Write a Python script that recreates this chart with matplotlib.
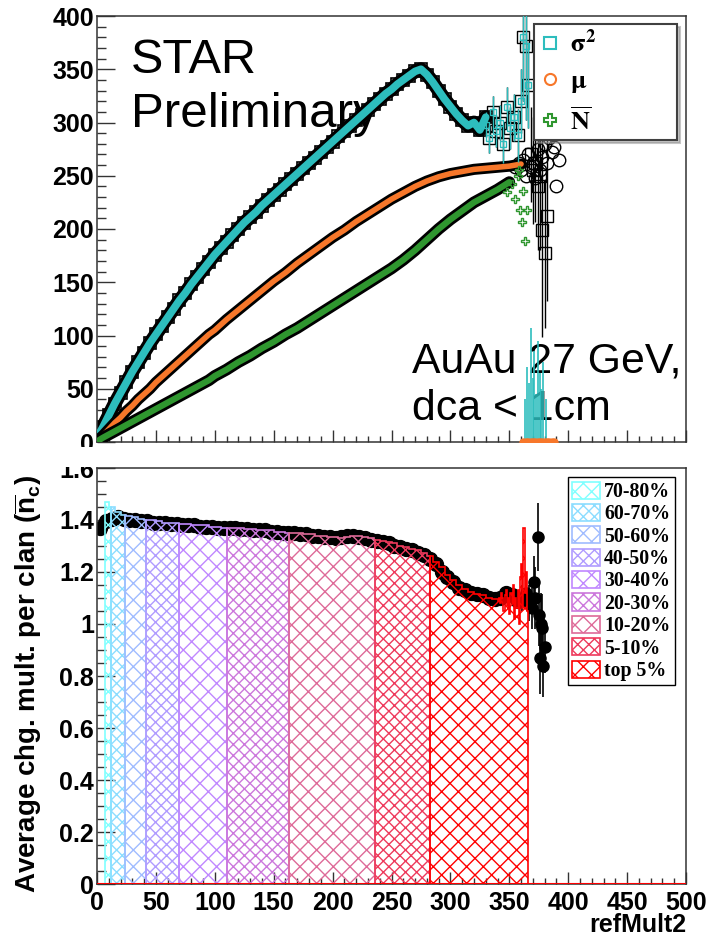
import numpy as np
import matplotlib
matplotlib.use("Agg")
import matplotlib.pyplot as plt
from matplotlib.ticker import MultipleLocator, FuncFormatter
from matplotlib.lines import Line2D
from matplotlib.transforms import Bbox, TransformedBbox

plt.rcParams['font.family'] = ['Liberation Sans', 'DejaVu Sans']
plt.rcParams['font.weight'] = 'bold'
plt.rcParams['mathtext.fontset'] = 'custom'
plt.rcParams['mathtext.rm'] = 'Liberation Sans:bold'
plt.rcParams['mathtext.it'] = 'Liberation Sans:bold'
plt.rcParams['mathtext.bf'] = 'Liberation Sans:bold'
plt.rcParams['hatch.linewidth'] = 1.0

CYAN = '#2DBDBD'
ORANGE = '#F7772A'
GREEN = '#2F962F'

# ---- upper pad: sigma^2, mu and Nbar vs refMult2 ----
sig2_x = [2] + list(range(5, 335, 5))
sig2 = [8,
        14, 25, 36, 46, 56, 66, 75, 84, 93, 101,
        109, 117, 125, 133, 140, 148, 155, 162, 169, 176,
        182, 188, 194, 200, 206, 211, 216, 222, 227, 232,
        237, 242, 247, 252, 257, 262, 267, 272, 277, 282,
        287, 292, 297, 302, 307, 312, 317, 322, 327, 331,
        336, 340, 344, 348, 350, 345, 338, 330, 322, 315,
        308, 302, 297, 300, 293, 305]

mu_x = [2] + list(range(5, 105, 5)) + list(range(110, 370, 10))
mu = [3,
      6, 12, 18, 23, 29, 34, 40, 45, 50, 56,
      61, 66, 71, 76, 81, 86, 91, 96, 101, 105,
      115, 124, 133, 142, 151, 159, 168, 176, 184, 192,
      199, 207, 214, 221, 228, 234, 240, 245, 249, 252,
      254, 256, 257, 258, 259, 261]

nbar_x = [2] + list(range(5, 105, 5)) + list(range(110, 360, 10))
nbar = [2,
        4, 7, 10, 13, 16, 19, 22, 25, 28, 31,
        34, 37, 40, 43, 46, 49, 52, 55, 58, 62,
        68, 75, 81, 88, 94, 101, 107, 114, 121, 128,
        135, 142, 149, 156, 163, 171, 180, 190, 200, 209,
        217, 225, 231, 237, 244]

# low-statistics bins at high refMult2
sig2_tail_x = [330, 333, 336, 339, 342, 345, 348, 351, 354, 357, 360, 362,
               364, 366, 368, 370, 372, 374, 376, 378, 380, 382]
sig2_tail = [298, 285, 310, 292, 300, 280, 315, 295, 305, 288, 320, 380,
             372, 335, 270, 255, 262, 240, 250, 199, 177, 212]
sig2_tail_err = [12, 14, 15, 15, 16, 18, 18, 20, 22, 25, 30, 60,
                 70, 40, 45, 50, 55, 60, 70, 100, 70, 80]
sig2_zero_x = [363, 365, 367, 368, 370, 371, 373, 374, 376, 377, 379, 381]
sig2_zero_err = [40, 70, 55, 107, 60, 85, 45, 95, 65, 50, 75, 40]

mu_tail_x = [355, 358, 360, 362, 364, 366, 368, 370, 372, 374, 376, 378,
             380, 382, 384, 386, 388, 390, 392]
mu_tail = [258, 262, 255, 265, 250, 270, 258, 262, 248, 275, 255, 268,
           280, 262, 285, 272, 277, 240, 265]
mu_zero_x = [362, 364, 366, 368, 370, 372, 374, 376, 378, 380, 382, 384, 386, 388]

nbar_tail_x = [348, 352, 355, 357, 358, 359, 361, 362, 363, 365]
nbar_tail = [235, 242, 228, 250, 255, 218, 207, 236, 189, 218]

# ---- lower pad: average charged multiplicity per clan ----
clan_mean = [1.37, 1.395, 1.405, 1.41, 1.405, 1.40, 1.40, 1.395, 1.395, 1.39,
             1.39, 1.39, 1.385, 1.385, 1.38, 1.38, 1.38, 1.375, 1.375, 1.375,
             1.37, 1.37, 1.37, 1.37, 1.365, 1.365, 1.36, 1.36, 1.36, 1.355,
             1.355, 1.35, 1.35, 1.35, 1.345, 1.345, 1.34, 1.34, 1.335, 1.335,
             1.33, 1.335, 1.34, 1.34, 1.335, 1.33, 1.325, 1.32, 1.315, 1.31,
             1.30, 1.295, 1.29, 1.285, 1.275, 1.265, 1.25, 1.23, 1.20, 1.18,
             1.16, 1.14, 1.13, 1.12, 1.115, 1.11, 1.10, 1.095, 1.10, 1.12,
             1.11, 1.09]
clan_x = 2.5 + 5 * np.arange(len(clan_mean))

clan_tail_x = [361, 364, 367, 369, 371, 372, 374, 375, 376, 377, 378, 379, 380]
clan_tail = [1.10, 1.12, 1.08, 1.06, 1.16, 1.10, 1.335, 1.035, 0.87, 1.00, 0.985, 0.84, 0.91]
clan_tail_err = [0.05, 0.06, 0.07, 0.08, 0.10, 0.12, 0.13, 0.12, 0.14, 0.12, 0.13, 0.12, 0.10]

band_edges = list(range(5, 345, 5)) + list(range(341, 367))
band_vals = [1.47, 1.45, 1.43, 1.42, 1.415, 1.41, 1.405, 1.40, 1.40, 1.395,
             1.39, 1.39, 1.39, 1.385, 1.385, 1.38, 1.38, 1.38, 1.375, 1.375,
             1.37, 1.37, 1.37, 1.37, 1.365, 1.365, 1.36, 1.36, 1.36, 1.355,
             1.355, 1.35, 1.35, 1.35, 1.345, 1.345, 1.34, 1.34, 1.335, 1.335,
             1.33, 1.335, 1.34, 1.34, 1.335, 1.33, 1.325, 1.32, 1.315, 1.31,
             1.30, 1.295, 1.29, 1.285, 1.275, 1.26, 1.24, 1.22, 1.19, 1.17,
             1.15, 1.135, 1.125, 1.115, 1.11, 1.10, 1.095,
             1.09, 1.10, 1.08, 1.12, 1.10, 1.05, 1.11, 1.13, 1.07, 1.10,
             1.04, 1.12, 1.08, 1.15, 1.02, 1.10, 1.06, 1.13, 1.00, 1.18,
             1.23, 1.06, 1.37, 1.12, 1.20, 1.05]

cent_labels = ['70-80%', '60-70%', '50-60%', '40-50%', '30-40%',
               '20-30%', '10-20%', '5-10%', 'top 5%']
cent_edges = [7, 12, 24, 42, 70, 110, 163, 236, 283, 366]
cent_colors = ['#80FFFF', '#8CDDFF', '#A0BCFF', '#B09CFF', '#C088FF',
               '#CC78DC', '#DE6A98', '#EE3A5C', '#FF0000']
cent_hatch = ['xx', 'xxx', 'xx', 'xxx', 'xx', 'xxx', 'xx', 'xxx', 'xx']


def class_steps(lo, hi):
    e = np.asarray(band_edges, float)
    v = np.asarray(band_vals)
    keep = (e[:-1] < hi) & (e[1:] > lo)
    edges = np.clip(np.r_[e[:-1][keep], e[1:][keep][-1]], lo, hi)
    return v[keep], edges


def root_axes(ax, ymaj, ymin, ylen):
    ax.set_xlim(0, 500)
    ax.xaxis.set_major_locator(MultipleLocator(50))
    ax.xaxis.set_minor_locator(MultipleLocator(10))
    ax.yaxis.set_major_locator(MultipleLocator(ymaj))
    ax.yaxis.set_minor_locator(MultipleLocator(ymin))
    ax.tick_params(which='both', direction='in', top=False, right=False,
                   width=1, labelsize=18, color='0.2')
    ax.tick_params(axis='y', which='major', length=ylen, pad=2)
    ax.tick_params(axis='y', which='minor', length=ylen / 2)
    ax.tick_params(axis='x', which='major', length=9, pad=5)
    ax.tick_params(axis='x', which='minor', length=4.5)
    fmt = FuncFormatter(lambda v, p: '%g' % round(v, 6))
    ax.xaxis.set_major_formatter(fmt)
    ax.yaxis.set_major_formatter(fmt)
    for s in ax.spines.values():
        s.set_linewidth(1.1)
        s.set_color('0.2')


W, H = 709.0, 943.0
fig = plt.figure(figsize=(W / 100, H / 100), dpi=100)
ax1 = fig.add_axes([97 / W, 1 - 442 / H, 589 / W, 426 / H])
ax2 = fig.add_axes([97 / W, 1 - 884 / H, 589 / W, 416 / H])

# upper pad
root_axes(ax1, 50, 10, 13)
ax1.set_ylim(0, 400)
ax1.tick_params(labelbottom=False)

ax1.plot(sig2_x, sig2, color='k', lw=10, solid_capstyle='round', zorder=2)
ax1.plot(sig2_x, sig2, 's', ms=9, mfc='none', mec='k', mew=1.2, zorder=2)
ax1.plot(sig2_x, sig2, color=CYAN, lw=5.5, solid_capstyle='round', zorder=3)

ax1.plot(mu_x, mu, color='k', lw=8, solid_capstyle='round', zorder=3)
ax1.plot(mu_x, mu, color=ORANGE, lw=4, solid_capstyle='round', zorder=3)

ax1.plot(nbar_x, nbar, color='k', lw=8.5, solid_capstyle='round', zorder=3)
ax1.plot(nbar_x, nbar, color=GREEN, lw=4.5, solid_capstyle='round', zorder=3)

ax1.errorbar(sig2_tail_x, sig2_tail, yerr=sig2_tail_err, fmt='s', ms=8,
             mfc='none', mec='k', mew=1, ecolor='k', elinewidth=1, zorder=2)
tx = np.asarray(sig2_tail_x)
m = tx <= 366
ax1.errorbar(tx[m], np.asarray(sig2_tail)[m], yerr=np.asarray(sig2_tail_err)[m],
             fmt='s', ms=4, mfc='none', mec=CYAN, mew=1, ecolor=CYAN,
             elinewidth=1, zorder=3)
ax1.errorbar(sig2_zero_x, np.zeros(len(sig2_zero_x)),
             yerr=[np.zeros(len(sig2_zero_x)), sig2_zero_err],
             fmt='none', ecolor=CYAN, elinewidth=1.2, zorder=3)
ax1.plot(mu_tail_x, mu_tail, 'o', ms=9, mfc='none', mec='k', mew=1, zorder=2)
ax1.plot(mu_zero_x, np.zeros(len(mu_zero_x)), 'o', ms=5, color=ORANGE, zorder=4)
ax1.plot(nbar_tail_x, nbar_tail, 'P', ms=6, mfc='none', mec=GREEN, mew=1, zorder=4)

ax1.text(131 / W, 1 - 73 / H, 'STAR', transform=fig.transFigure, fontsize=35,
         fontweight='normal', zorder=1)
ax1.text(131 / W, 1 - 127 / H, 'Preliminary', transform=fig.transFigure,
         fontsize=35.5, fontweight='normal', zorder=1)
ax1.text(412 / W, 1 - 372 / H, 'AuAu 27 GeV,', transform=fig.transFigure,
         fontsize=30.8, fontweight='normal', zorder=1)
ax1.text(412 / W, 1 - 420 / H, 'dca < 1cm', transform=fig.transFigure,
         fontsize=30.8, fontweight='normal', zorder=1)

handles = [Line2D([], [], ls='none', marker='s', ms=8, mfc='none', mec=CYAN, mew=1.5),
           Line2D([], [], ls='none', marker='o', ms=8, mfc='none', mec=ORANGE, mew=1.5),
           Line2D([], [], ls='none', marker='P', ms=8, mfc='none', mec=GREEN, mew=1.5)]
labels = [r'$\mathbf{\sigma}^{\mathbf{2}}$', r'$\mathbf{\mu}$', r'$\overline{\mathbf{N}}$']
leg1 = ax1.legend(handles, labels, loc='upper left',
                  bbox_to_anchor=(0.742, 0.714, 0.243, 0.267), mode='expand',
                  prop={'size': 19}, handlelength=0.8, handletextpad=0.35,
                  labelspacing=0.45, borderpad=0.2, borderaxespad=0,
                  fancybox=False, edgecolor='0.25', framealpha=1,
                  shadow={'color': '0.55'})
leg1.get_frame().set_linewidth(1.5)
for t in leg1.get_texts():
    t.set_math_fontfamily('stix')

# lower pad
root_axes(ax2, 0.2, 0.05, 13)
ax2.set_ylim(0, 1.6)

ax2.plot(clan_x, clan_mean, 'o', color='k', ms=10, zorder=2)
ax2.errorbar(clan_tail_x, clan_tail, yerr=clan_tail_err, fmt='o', color='k',
             ms=8, elinewidth=1.2, zorder=2)

for i, lab in enumerate(cent_labels):
    vals, edges = class_steps(cent_edges[i], cent_edges[i + 1])
    ax2.stairs(vals, edges, baseline=0, fill=True, facecolor='none',
               edgecolor=cent_colors[i], hatch=cent_hatch[i], lw=1.2,
               zorder=3, label=lab)
ax2.axhline(0, color='red', lw=1.5, zorder=4)

leg2 = ax2.legend(loc='upper right', bbox_to_anchor=(0.981, 0.978),
                  prop={'family': 'Liberation Serif', 'weight': 'bold', 'size': 14.3},
                  handlelength=1.4, handleheight=0.95, handletextpad=0.2,
                  labelspacing=0.1, borderpad=0.22, borderaxespad=0,
                  fancybox=False, edgecolor='k', framealpha=1)
leg2.get_frame().set_linewidth(1.0)

fig.text(28 / W, 1 - 684 / H, r'Average chg. mult. per clan ($\overline{\mathrm{n}}_{\mathrm{c}}$)',
         rotation=90, ha='center', va='center', fontsize=20)
fig.text(686 / W, 1 - 932 / H, 'refMult2', ha='right', va='baseline', fontsize=18)

# tick labels are cut at the pad borders
fig.canvas.draw()
clip1 = TransformedBbox(Bbox.from_extents(0, 1 - 447 / H, 1, 1), fig.transFigure)
for t in ax1.yaxis.get_major_ticks():
    t.label1.set_clip_box(clip1)
    t.label1.set_clip_on(True)
clip2 = TransformedBbox(Bbox.from_extents(0, 0, 1, 1 - 467 / H), fig.transFigure)
for t in ax2.yaxis.get_major_ticks():
    t.label1.set_clip_box(clip2)
    t.label1.set_clip_on(True)

fig.savefig('out.png', dpi=100)
